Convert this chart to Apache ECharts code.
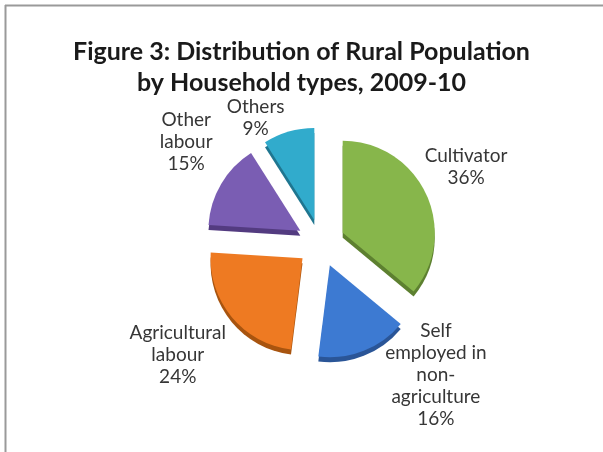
<!DOCTYPE html>
<html><head><meta charset="utf-8">
<script src="https://cdn.jsdelivr.net/npm/echarts@6/dist/echarts.min.js"></script>
<style>html,body{margin:0;padding:0;background:#fff}#c{width:603px;height:452px}</style>
</head><body><div id="c"></div>
<script>
const categories = ['Cultivator', 'Self employed in non-agriculture', 'Agricultural labour', 'Other labour', 'Others'];
const labelNames = ['Cultivator', 'Self\nemployed in\nnon-\nagriculture', 'Agricultural\nlabour', 'Other\nlabour', 'Others'];
const values = [36, 16, 24, 15, 9];
const colors = ['#87b64b', '#3d7ad2', '#ee7a22', '#7a5db3', '#31abcc'];
const sideColors = ['#5d8030', '#2a5597', '#a8540f', '#533b80', '#1f7690'];
const labelShift = [[79, -45], [88, 64], [-87, 65], [-72, -64], [-45, -55]];

const chart = echarts.init(document.getElementById('c'), null, {renderer: 'canvas'});
const mk = (cols, withLabel) => categories.map((c, i) => ({
  name: c, value: values[i], selected: true,
  itemStyle: {color: cols[i]},
  label: {show: withLabel, formatter: labelNames[i] + '\n' + values[i] + '%'}
}));
chart.setOption({
  animation: false,
  backgroundColor: '#ffffff',
  title: {
    text: 'Figure 3: Distribution of Rural Population\nby Household types, 2009-10',
    left: 'center', top: 31,
    textStyle: {fontFamily: 'Lato', fontWeight: 'bold', fontSize: 25, color: '#1a1a1a', lineHeight: 31}
  },
  graphic: [
    {type: 'line', shape: {x1: 5, y1: 5.5, x2: 603, y2: 5.5}, style: {stroke: '#9a9a9a', lineWidth: 2}},
    {type: 'line', shape: {x1: 5.5, y1: 5, x2: 5.5, y2: 452}, style: {stroke: '#9a9a9a', lineWidth: 2}}
  ],
  series: [
    {
      type: 'pie', silent: true, z: 1,
      center: [321, 248], radius: 92, startAngle: 90,
      selectedMode: 'multiple', selectedOffset: 24,
      label: {show: false}, labelLine: {show: false},
      data: mk(sideColors, false)
    },
    {
      type: 'pie', z: 2,
      center: [321, 243], radius: 92, startAngle: 90,
      selectedMode: 'multiple', selectedOffset: 24,
      itemStyle: {borderWidth: 0},
      label: {position: 'inside', fontFamily: 'Lato', fontSize: 19, color: '#363636', lineHeight: 22, align: 'center'},
      labelLine: {show: false},
      labelLayout: function (p) {
        const s = labelShift[p.dataIndex];
        return {dx: s[0], dy: s[1]};
      },
      data: mk(colors, true)
    }
  ]
});
</script></body></html>
